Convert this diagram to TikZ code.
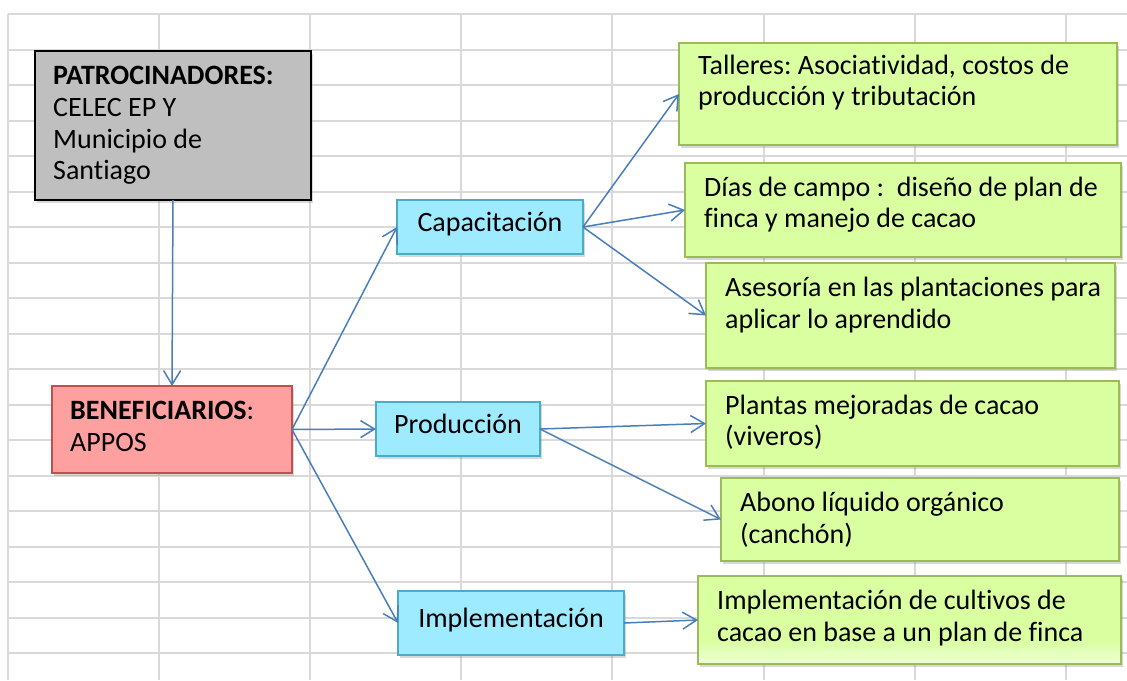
\documentclass[tikz,border=0pt]{standalone}
\usepackage{fontspec}
\setmainfont{Carlito}[Ligatures={NoCommon}]
\frenchspacing
\usetikzlibrary{arrows.meta,shadows,calc}
\definecolor{gridc}{RGB}{217,217,217}
\definecolor{arrc}{RGB}{74,126,187}
\definecolor{grayfill}{RGB}{191,191,191}
\definecolor{pinkfill}{RGB}{255,160,160}
\definecolor{pinkdraw}{RGB}{192,80,77}
\definecolor{bluefill}{RGB}{158,234,255}
\definecolor{bluedraw}{RGB}{75,172,198}
\definecolor{greenfill}{RGB}{217,255,160}
\definecolor{greendraw}{RGB}{155,187,89}
\begin{document}
\begin{tikzpicture}[x=1pt,y=-1pt,
  box/.style={rectangle, inner sep=0pt, outer sep=0pt, anchor=north west, line width=1.5pt,
    drop shadow={opacity=0.3, shadow xshift=2pt, shadow yshift=-3pt}},
  graybox/.style={box, fill=grayfill, draw=black},
  pinkbox/.style={box, fill=pinkfill, draw=pinkdraw},
  bluebox/.style={box, fill=bluefill, draw=bluedraw, font=\fontsize{28}{32}\selectfont,
    text height=17pt, text depth=8pt},
  greenbox/.style={box, fill=greenfill, draw=greendraw},
  txt/.style={anchor=west, inner sep=0pt, align=left, font=\fontsize{28}{31.6}\selectfont},
  arr/.style={draw=arrc, line width=1.5pt, -{Straight Barb[length=14pt,width=17pt]}},
  gridline/.style={draw=gridc, line width=2pt},
]
\useasboundingbox[fill=white] (0,0) rectangle (1127,680);
% spreadsheet grid
\foreach \k in {0,...,18} \draw[gridline] (8,{14+35.5*\k}) -- (1127,{14+35.5*\k});
\foreach \k in {0,...,7} \draw[gridline] ({8+151.1*\k},14) -- ({8+151.1*\k},680);

% boxes
\node[graybox, minimum width=276pt, minimum height=149pt] (pat) at (35,51) {};
\node[txt] (patt) at (53,126) {\strut\textbf{PATROCINADORES:}\\\strut CELEC EP Y\\\strut Municipio de\\\strut Santiago};

\node[pinkbox, minimum width=240pt, minimum height=87pt] (ben) at (52,386) {};
\node[txt] (bent) at (70,429) {\strut\textbf{BENEFICIARIOS}:\\\strut APPOS};

\node[bluebox, minimum width=186pt, minimum height=54pt] (cap) at (397,200) {Capacitación};
\node[bluebox, minimum width=164pt, minimum height=54pt] (pro) at (376,402) {Producción};
\node[bluebox, minimum width=226pt, minimum height=64pt] (imp) at (398,591) {Implementación};

\node[greenbox, minimum width=438pt, minimum height=102pt] (t1) at (679,43) {};
\node[txt] (t1t) at (698,83.5) {\strut Talleres: Asociatividad, costos de\\\strut producción y tributación};

\node[greenbox, minimum width=436pt, minimum height=94pt] (t2) at (685,163) {};
\node[txt] (t2t) at (704,205.5) {\strut Días de campo :\ \ diseño de plan de\\\strut finca y manejo de cacao};

\node[greenbox, minimum width=409pt, minimum height=105pt] (t3) at (706,263) {};
\node[txt] (t3t) at (725,306) {\strut Asesoría en las plantaciones para\\\strut aplicar lo aprendido};

\node[greenbox, minimum width=413pt, minimum height=85pt] (p1) at (706,381) {};
\node[txt] (p1t) at (725,423.5) {\strut Plantas mejoradas de cacao\\\strut (viveros)};

\node[greenbox, minimum width=398pt, minimum height=83pt] (p2) at (721,478) {};
\node[txt] (p2t) at (740,521) {\strut Abono líquido orgánico\\\strut (canchón)};

\node[greenbox, minimum width=423pt, minimum height=88pt] (i1) at (698,576) {};
\shade[top color=greenfill, bottom color=white!55!greenfill]
  ($(i1.south west)+(1,-24)$) rectangle ($(i1.south east)+(-1,-1)$);
\draw[greendraw, line width=1.5pt] (i1.north west) rectangle (i1.south east);
\node[txt] (i1t) at (717,619) {\strut Implementación de cultivos de\\\strut cacao en base a un plan de finca};

% connectors
\draw[arr] (pat.south) -- (ben.north);
\draw[arr] (ben.east) -- (cap.west);
\draw[arr] (ben.east) -- (pro.west);
\draw[arr] (ben.east) -- (imp.west);
\draw[arr] (cap.east) -- (t1.west);
\draw[arr] (cap.east) -- (t2.west);
\draw[arr] (cap.east) -- (t3.west);
\draw[arr] (pro.east) -- (p1.west);
\draw[arr] (pro.east) -- (p2.west);
\draw[arr] (imp.east) -- (i1.west);
\end{tikzpicture}
\end{document}
